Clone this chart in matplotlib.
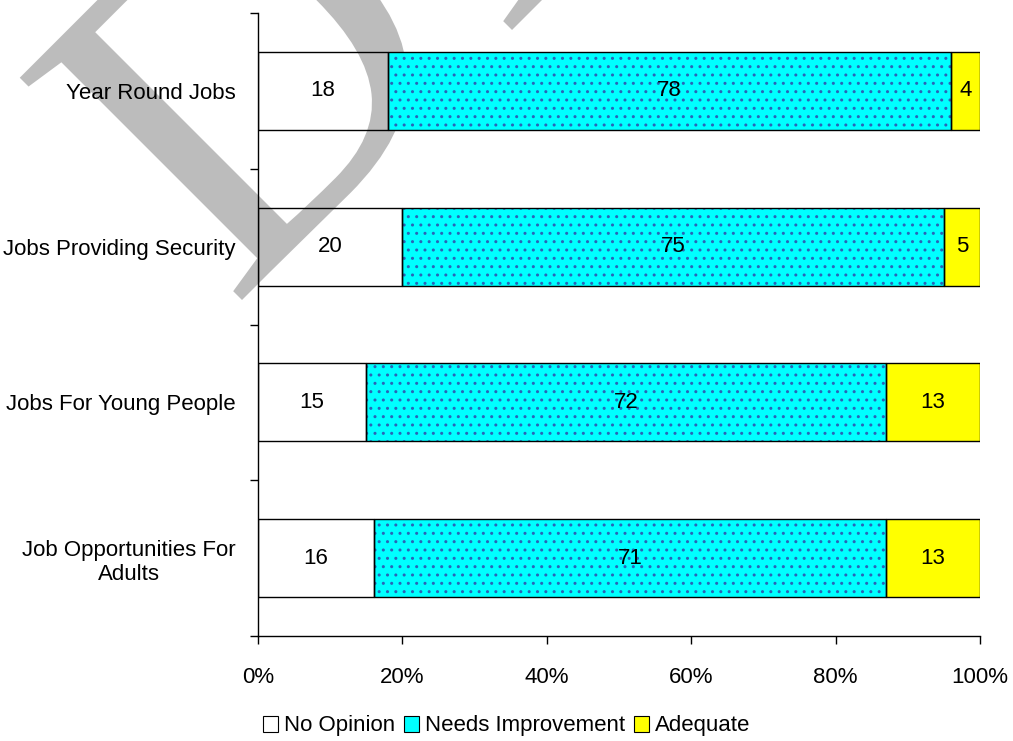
import matplotlib.pyplot as plt
import numpy as np
from matplotlib.patches import Patch, PathPatch
from matplotlib.textpath import TextPath
from matplotlib.font_manager import FontProperties
from matplotlib.transforms import Affine2D, IdentityTransform

plt.rcParams['font.family'] = ['Liberation Sans', 'DejaVu Sans']
plt.rcParams['hatch.linewidth'] = 1.0

categories = ['Year Round Jobs', 'Jobs Providing Security',
              'Jobs For Young People', 'Job Opportunities For\nAdults']
no_opinion = [18, 20, 15, 16]
needs_improvement = [78, 75, 72, 71]
adequate = [4, 5, 13, 13]

series = [
    ('No Opinion', no_opinion, 'white', None),
    ('Needs Improvement', needs_improvement, '#00FFFF', '..'),
    ('Adequate', adequate, '#FFFF00', None),
]

FS = 16
W, H = 1013, 741

fig = plt.figure(figsize=(W / 100, H / 100), dpi=100)
ax = fig.add_axes([258 / W, 105 / H, 722 / W, 623 / H])

y = np.arange(len(categories))
left = np.zeros(len(categories))
handles = []
for name, vals, color, hatch in series:
    vals = np.array(vals, dtype=float)
    if hatch:
        ax.barh(y, vals, left=left, height=0.5, color=color, hatch=hatch,
                edgecolor='#2a64b8', linewidth=0, zorder=2)
        ax.barh(y, vals, left=left, height=0.5, fill=False,
                edgecolor='black', linewidth=1.0, zorder=3)
    elif color == 'white':
        # no-opinion segments are see-through, the watermark shows in them
        ax.barh(y, vals, left=left, height=0.5, fill=False,
                edgecolor='black', linewidth=1.0, zorder=3)
    else:
        ax.barh(y, vals, left=left, height=0.5, color=color,
                edgecolor='black', linewidth=1.0, zorder=2)
    for yi, l, v in zip(y, left, vals):
        ax.text(l + v / 2, yi, f'{int(v)}', ha='center', va='center',
                fontsize=FS, zorder=5)
    left += vals
    handles.append(Patch(facecolor=color, edgecolor='black', linewidth=0.8))

# "DRAFT" watermark, mostly off the top of the page
wm_size = 480
wm_font = FontProperties(family='Liberation Serif')
d_path = TextPath((0, 0), 'D', size=wm_size, prop=wm_font)
d_box = d_path.get_extents()
rest_path = TextPath((d_box.x0 + 365, 0), 'RAFT', size=wm_size, prop=wm_font)
anchor = (242, H - 300)   # where the lower-left corner of the D lands (pixels)
wm_tr = (Affine2D().translate(-d_box.x0, 0).rotate_deg(45)
         .translate(*anchor) + IdentityTransform())
for p in (d_path, rest_path):
    ax.add_patch(PathPatch(p, transform=wm_tr, facecolor='#bcbcbc',
                           edgecolor='none', clip_on=False, zorder=1.5))

ax.set_xlim(0, 100)
ax.set_ylim(len(categories) - 0.5, -0.5)
ax.set_xticks(np.arange(0, 101, 20))
ax.set_xticklabels([f'{t}%' for t in range(0, 101, 20)], fontsize=FS)
ax.set_yticks(np.arange(-0.5, len(categories), 1.0))
ax.set_yticklabels([])
ax.set_yticks(y, minor=True)
ax.set_yticklabels(categories, minor=True, fontsize=FS, multialignment='center')
ax.tick_params(axis='y', which='minor', length=0, pad=16)
ax.tick_params(axis='y', which='major', length=6, width=1, direction='out')
ax.tick_params(axis='x', length=6, width=1, direction='out', pad=16)
ax.set_axisbelow(False)
ax.xaxis.set_zorder(4)
ax.yaxis.set_zorder(4)
for s in ['top', 'right']:
    ax.spines[s].set_visible(False)
for s in ['left', 'bottom']:
    ax.spines[s].set_linewidth(1)
    ax.spines[s].set_zorder(4)

fig.legend(handles, [s[0] for s in series], loc='center',
           bbox_to_anchor=(0.5, 1 - 726 / H), ncol=3, frameon=False,
           fontsize=FS, handlelength=0.7, handleheight=0.7,
           handletextpad=0.25, columnspacing=0.4)

fig.savefig('out.png', dpi=100)
